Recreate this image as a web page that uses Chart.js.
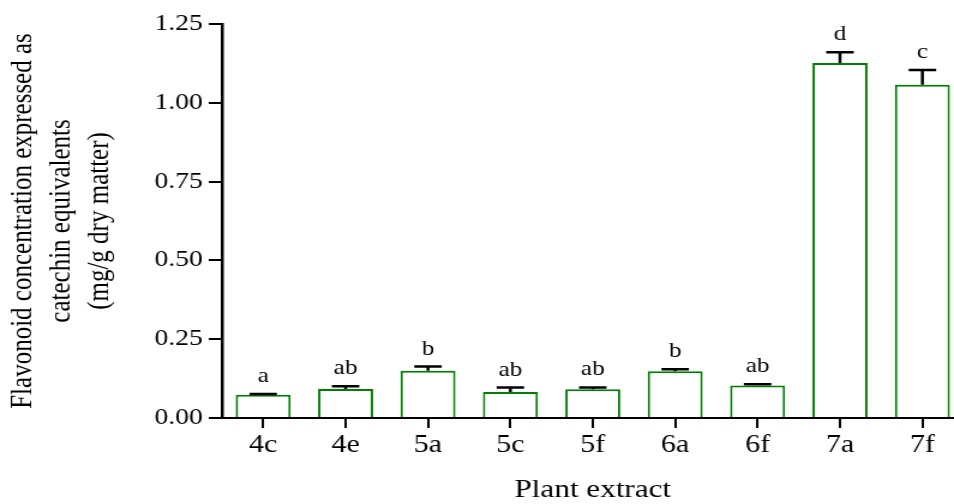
<!DOCTYPE html>
<html>
<head>
<meta charset="utf-8">
<script src="https://cdn.jsdelivr.net/npm/chart.js@4/dist/chart.umd.min.js"></script>
<style>
  html, body { margin: 0; padding: 0; background: #fff; overflow: hidden; width: 954px; height: 504px; }
  #wrap { width: 810px; height: 504px; transform: scaleX(1.2); transform-origin: 0 0; }
  canvas { display: block; }
</style>
</head>
<body>
<div id="wrap"><canvas id="c" width="810" height="504"></canvas></div>
<script>
// Plant extracts and their flavonoid content (mg catechin eq. / g dry matter)
const extracts = ['4c', '4e', '5a', '5c', '5f', '6a', '6f', '7a', '7f'];
const flavonoid = [0.074, 0.092, 0.150, 0.0825, 0.091, 0.148, 0.103, 1.126, 1.057];
const flavonoidSD = [0.002, 0.009, 0.013, 0.014, 0.006, 0.007, 0.004, 0.034, 0.047];
const groupLetters = ['a', 'ab', 'b', 'ab', 'ab', 'b', 'ab', 'd', 'c'];
const yTicks = [0, 0.25, 0.5, 0.75, 1.0, 1.25];

const SERIF = '"Liberation Serif", "Times New Roman", serif';

// Upper error bars with caps, plus significance letters above them
const errorBarsPlugin = {
  id: 'errorBars',
  afterDatasetsDraw(chart) {
    const ctx = chart.ctx;
    const yScale = chart.scales.y;
    const meta = chart.getDatasetMeta(0);
    ctx.save();
    meta.data.forEach((bar, i) => {
      const x = bar.x;
      const yTop = yScale.getPixelForValue(flavonoid[i]);
      const yErr = yScale.getPixelForValue(flavonoid[i] + flavonoidSD[i]);
      const half = bar.width * 0.25;
      ctx.strokeStyle = '#000';
      ctx.lineWidth = 2.5;
      ctx.beginPath();
      ctx.moveTo(x, yTop);
      ctx.lineTo(x, yErr);
      ctx.moveTo(x - half, yErr);
      ctx.lineTo(x + half, yErr);
      ctx.stroke();

      ctx.fillStyle = '#000';
      ctx.font = '21px ' + SERIF;
      ctx.textAlign = 'center';
      ctx.textBaseline = 'alphabetic';
      ctx.fillText(groupLetters[i], x, yErr - 12);
    });
    ctx.restore();
  }
};

new Chart(document.getElementById('c'), {
  type: 'bar',
  data: {
    labels: extracts,
    datasets: [{
      data: flavonoid,
      backgroundColor: '#ffffff',
      borderColor: '#008000',
      borderWidth: 2,
      borderSkipped: 'bottom',
      categoryPercentage: 1.0,
      barPercentage: 0.667
    }]
  },
  options: {
    responsive: false,
    animation: false,
    devicePixelRatio: 1,
    layout: { padding: { top: 24, right: 7, left: 0, bottom: 0 } },
    plugins: { legend: { display: false }, tooltip: { enabled: false } },
    scales: {
      x: {
        offset: true,
        grid: { display: true, drawOnChartArea: false, drawTicks: true, tickLength: 10, color: '#000', lineWidth: 2, offset: false },
        border: { display: true, color: '#000', width: 2 },
        ticks: { color: '#000', font: { family: SERIF, size: 25 }, padding: 2, maxRotation: 0, autoSkip: false },
        title: { display: true, text: 'Plant extract', color: '#000', font: { family: SERIF, size: 26, lineHeight: 1.0 }, padding: { top: 0, bottom: 1 } },
        afterFit(scale) { scale.height = 86; }
      },
      y: {
        min: 0,
        max: 1.25,
        afterBuildTicks(scale) { scale.ticks = yTicks.map(v => ({ value: v })); },
        grid: { display: true, drawOnChartArea: false, drawTicks: true, tickLength: 11, color: '#000', lineWidth: 2 },
        border: { display: true, color: '#000', width: 2.5 },
        ticks: {
          color: '#000',
          font: { family: SERIF, size: 23 },
          padding: 5,
          callback: v => Number(v).toFixed(2)
        },
        title: {
          display: true,
          text: ['Flavonoid concentration expressed as', 'catechin equivalents', '(mg/g dry matter)'],
          color: '#000',
          font: { family: SERIF, size: 25, lineHeight: 1.28 },
          padding: { top: 3, bottom: 0 }
        },
        afterFit(scale) { scale.width = 185; }
      }
    }
  },
  plugins: [errorBarsPlugin]
});
</script>
</body>
</html>
